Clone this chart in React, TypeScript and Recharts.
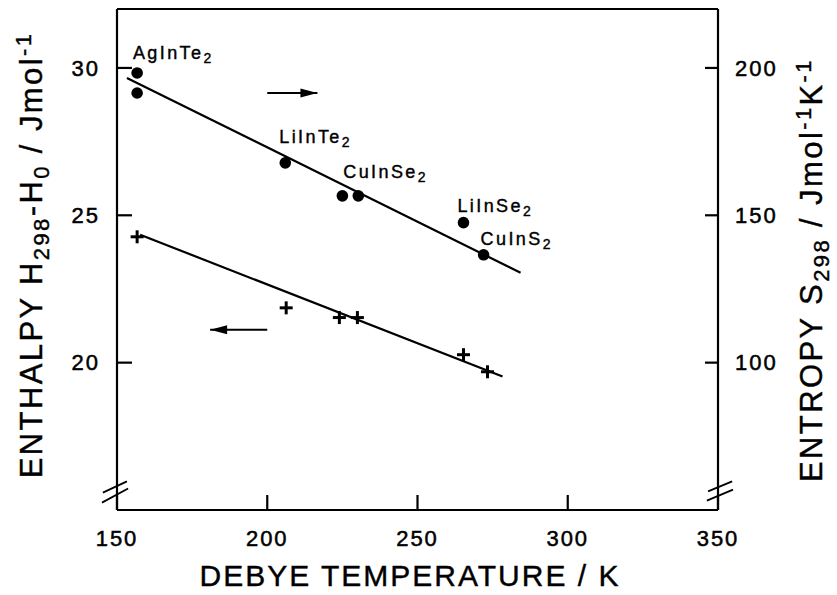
import { ComposedChart, Scatter, XAxis, YAxis, ReferenceLine } from 'recharts';

const FONT = '"Liberation Sans", Arial, Helvetica, sans-serif';

// entropy S298 (right axis) - filled circles
const entropyT = [156.7, 156.7, 206, 225, 230.3, 265.3, 272];
const entropyS = [198.3, 191.5, 167.8, 156.6, 156.6, 147.5, 136.6];

// enthalpy H298-H0 (left axis) - crosses
const enthalpyT = [156.7, 206.3, 224, 230, 265.3, 273.3];
const enthalpyH = [24.27, 21.86, 21.53, 21.53, 20.27, 19.69];

// fitted straight lines (end points)
const entropyFitT = [153.3, 284.3];
const entropyFitS = [196.6, 130.5];
const enthalpyFitT = [157.7, 278.3];
const enthalpyFitH = [24.34, 19.53];

// compound labels, placed in left-axis units
const compounds = ['AgInTe', 'LiInTe', 'CuInSe', 'LiInSe', 'CuInS'];
const labelT = [155.3, 204, 225.3, 263.3, 271];
const labelH = [30.31, 27.46, 26.27, 25.12, 24.0];

// arrows telling which axis each series belongs to
const arrowFromT = [200, 200];
const arrowTipT = [216.7, 181];
const arrowH = [29.15, 21.12];

// axis break marks "//"
const breakX1 = [145.3, 145.0, 346.7, 346.3];
const breakX2 = [153.3, 153.7, 354.7, 355.0];
const breakY1 = [15.59, 15.25, 15.63, 15.32];
const breakY2 = [15.97, 15.73, 15.97, 15.69];

const xTicks = [150, 200, 250, 300, 350];
const leftTicks = [20, 25, 30];
const rightTicks = [100, 150, 200];

const entropyData = entropyT.map((x, i) => ({ x, y: entropyS[i] }));
const enthalpyData = enthalpyT.map((x, i) => ({ x, y: enthalpyH[i] }));
const entropyFit = entropyFitT.map((x, i) => ({ x, y: entropyFitS[i] }));
const enthalpyFit = enthalpyFitT.map((x, i) => ({ x, y: enthalpyFitH[i] }));
const labelData = compounds.map((name, i) => ({ x: labelT[i], y: labelH[i], name }));
const arrowData = arrowTipT.map((x, i) => ({ x, y: arrowH[i], dir: x > arrowFromT[i] ? 1 : -1 }));

const tickStyle = {
  fill: '#000',
  stroke: '#000',
  strokeWidth: 0.5,
  fontSize: 22,
  fontFamily: FONT,
  letterSpacing: 2,
};

const Dot = (p: any) => <circle cx={p.cx} cy={p.cy} r={5.8} fill="#000" />;

const Cross = (p: any) => (
  <g stroke="#000" strokeWidth={3}>
    <line x1={p.cx - 6.5} y1={p.cy} x2={p.cx + 6.5} y2={p.cy} />
    <line x1={p.cx} y1={p.cy - 6.5} x2={p.cx} y2={p.cy + 6.5} />
  </g>
);

const Nothing = () => <g />;

const Formula = (p: any) => (
  <text
    x={p.cx}
    y={p.cy}
    fontFamily={FONT}
    fontSize={18}
    letterSpacing={2.4}
    fill="#000"
    stroke="#000"
    strokeWidth={0.4}
  >
    {p.payload.name}
    <tspan dy={4} fontSize={14}>2</tspan>
  </text>
);

const ArrowHead = (p: any) => {
  const d = p.payload.dir;
  return (
    <polygon
      points={`${p.cx},${p.cy} ${p.cx - d * 17},${p.cy - 4.5} ${p.cx - d * 17},${p.cy + 4.5}`}
      fill="#000"
    />
  );
};

const titleProps = {
  fontFamily: FONT,
  fontSize: 31,
  letterSpacing: 2.4,
  fill: '#000',
  stroke: '#000',
  strokeWidth: 0.4,
  textAnchor: 'middle' as const,
};

const LeftTitle = () => (
  <text x={42} y={255} transform="rotate(-90, 42, 255)" {...titleProps}>
    ENTHALPY H
    <tspan dy={7} fontSize={22}>298</tspan>
    <tspan dy={-7}>-H</tspan>
    <tspan dy={7} fontSize={22}>0</tspan>
    <tspan dy={-7}> / Jmol</tspan>
    <tspan dy={-11} fontSize={22}>-1</tspan>
  </text>
);

const RightTitle = () => (
  <text x={822} y={270} transform="rotate(-90, 822, 270)" {...titleProps}>
    ENTROPY S
    <tspan dy={7} fontSize={22}>298</tspan>
    <tspan dy={-7}> / Jmol</tspan>
    <tspan dy={-11} fontSize={22}>-1</tspan>
    <tspan dy={11}>K</tspan>
    <tspan dy={-11} fontSize={22}>-1</tspan>
  </text>
);

const BottomTitle = () => (
  <text x={410} y={586} {...titleProps} fontSize={30} letterSpacing={2}>
    DEBYE TEMPERATURE / K
  </text>
);

const axisStroke = { stroke: '#000', strokeWidth: 2.2 };

export default function App() {
  return (
    <div style={{ position: 'absolute', left: 0, top: 0, background: '#fff' }}>
      <ComposedChart width={837} height={595} margin={{ top: 9, right: 0, bottom: 0, left: 0 }}>
        <XAxis
          type="number"
          dataKey="x"
          domain={[150, 350]}
          ticks={xTicks}
          allowDataOverflow
          height={85}
          tickSize={-15}
          tickMargin={35}
          tick={tickStyle}
          axisLine={axisStroke}
          tickLine={axisStroke}
          label={{ content: () => <BottomTitle /> }}
        />
        <YAxis
          yAxisId="left"
          type="number"
          dataKey="y"
          domain={[15, 32]}
          ticks={leftTicks}
          allowDataOverflow
          width={117}
          tickSize={-15}
          tickMargin={32}
          tick={tickStyle}
          axisLine={axisStroke}
          tickLine={axisStroke}
          label={{ content: () => <LeftTitle /> }}
        />
        <YAxis
          yAxisId="right"
          orientation="right"
          type="number"
          dataKey="y"
          domain={[50, 220]}
          ticks={rightTicks}
          allowDataOverflow
          width={119}
          tickSize={-13}
          tickMargin={30}
          tick={{ ...tickStyle, textAnchor: 'start' }}
          axisLine={axisStroke}
          tickLine={axisStroke}
          label={{ content: () => <RightTitle /> }}
        />

        {/* frame top */}
        <ReferenceLine yAxisId="left" y={32} stroke="#000" strokeWidth={2.2} ifOverflow="visible" />

        {/* axis breaks */}
        {breakX1.map((x, i) => (
          <ReferenceLine
            key={`brk${i}`}
            yAxisId="left"
            segment={[
              { x, y: breakY1[i] },
              { x: breakX2[i], y: breakY2[i] },
            ]}
            stroke="#000"
            strokeWidth={1.8}
            ifOverflow="visible"
          />
        ))}

        {/* arrow shafts */}
        {arrowTipT.map((x, i) => (
          <ReferenceLine
            key={`arr${i}`}
            yAxisId="left"
            segment={[
              { x: arrowFromT[i], y: arrowH[i] },
              { x, y: arrowH[i] },
            ]}
            stroke="#000"
            strokeWidth={2}
            ifOverflow="visible"
          />
        ))}

        <Scatter
          yAxisId="right"
          data={entropyFit}
          line={{ stroke: '#000', strokeWidth: 2.2 }}
          shape={<Nothing />}
          isAnimationActive={false}
        />
        <Scatter
          yAxisId="left"
          data={enthalpyFit}
          line={{ stroke: '#000', strokeWidth: 2.2 }}
          shape={<Nothing />}
          isAnimationActive={false}
        />
        <Scatter yAxisId="right" data={entropyData} shape={<Dot />} isAnimationActive={false} />
        <Scatter yAxisId="left" data={enthalpyData} shape={<Cross />} isAnimationActive={false} />
        <Scatter yAxisId="left" data={labelData} shape={<Formula />} isAnimationActive={false} />
        <Scatter yAxisId="left" data={arrowData} shape={<ArrowHead />} isAnimationActive={false} />
      </ComposedChart>
    </div>
  );
}
